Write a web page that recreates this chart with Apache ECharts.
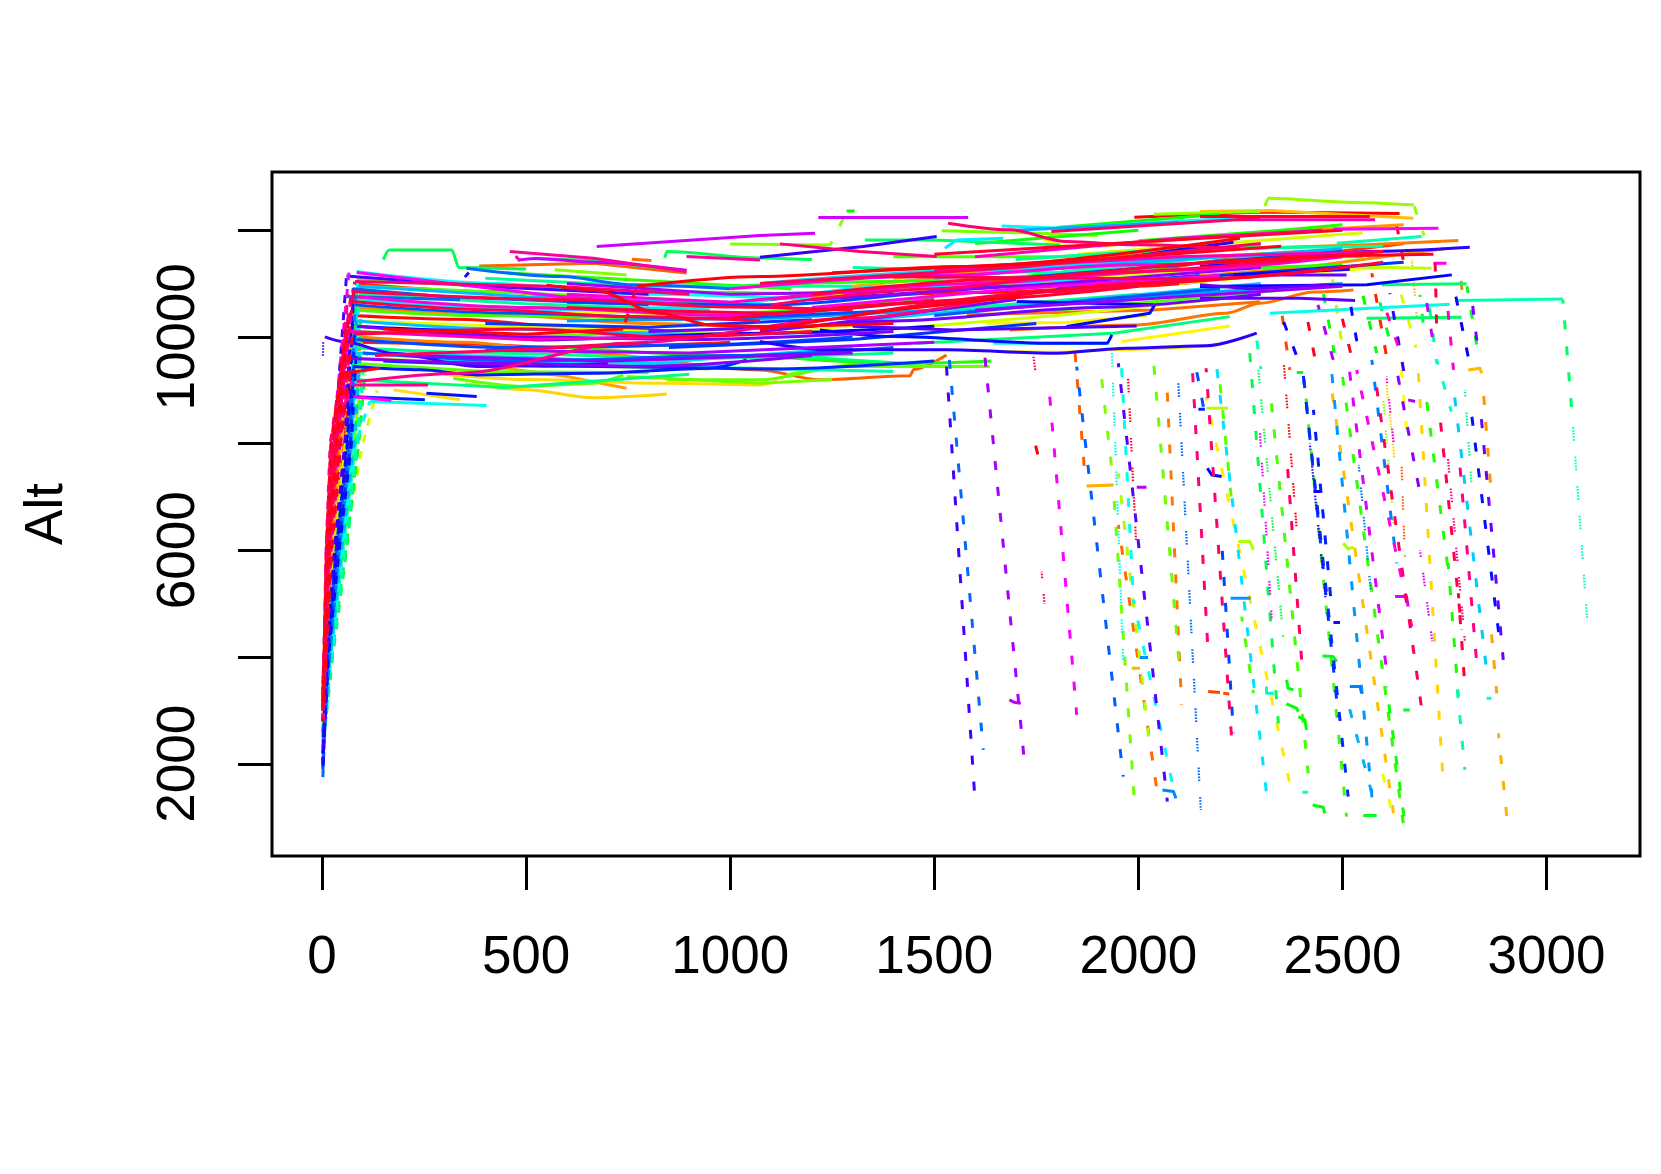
<!DOCTYPE html>
<html>
<head>
<meta charset="utf-8">
<title>Alt</title>
<script src="https://cdn.jsdelivr.net/npm/echarts@6/dist/echarts.min.js"></script>
<style>
  html, body { margin: 0; padding: 0; background: #fff; }
  #main { width: 1661px; height: 1174px; }
</style>
</head>
<body>
<div id="main"></div>
<script>
// axis ticks
const xTicks = [0, 500, 1000, 1500, 2000, 2500, 3000];
const yTicks = [2000, 4000, 6000, 8000, 10000, 12000];
const yLabels = [2000, 6000, 10000];

// solid flight levels, flat x,y,x,y... one array per colour family
const redTracks = [
  [1990,12240,2300,12340,2640,12310],
  [75,10400,330,10330,620,10180,900,10090],
  [1200,10700,1600,10830,2000,10950,2400,11300],
  [75,9900,300,9880,600,9800,1000,9900],
  [80,11000,400,10850,800,10650,1150,10550],
  [1500,10950,1900,11150,2300,11500,2650,11750],
  [2171,3353,2200,3334],
  [2208,3322,2223,3309]
];
const orangeTracks = [
  [790,9600,1073,9380,1220,9195,1440,9270,1450,9390,1530,9660],
  [385,11330,665,11380,893,11195],
  [759,11456,807,11430],
  [1580,10413,2037,10506,2298,10660],
  [1685,10130,1996,10225,2216,10444,2298,10630,2430,10840,2527,10880],
  [2151,11630,2559,11725,2784,11806],
  [90,10000,350,9900,600,9720,800,9600],
  [85,10550,450,10400,800,10250,1100,10150],
  [1150,10700,1600,10950,2000,11150,2400,11450],
  [2000,11050,2400,11300,2750,11650],
  [1900,11700,2300,11950,2650,12100],
  [1400,11100,1800,11300,2100,11500,2400,11600],
  [440,9420,600,9257,746,9038],
  [1300,10950,1700,11250,2000,11560],
  [1873,7207,1939,7226],
  [1984,3790,2004,3790],
  [2808,9381,2837,9412,2841,9319],
  [2151,12350,2322,12368,2674,12224]
];
const yellowTracks = [
  [350,9120,500,9010,665,8860,845,8930],
  [300,9300,500,9200,844,9130,1073,9100,1115,9170],
  [175,9007,338,8820],
  [1645,9725,1808,9713,1930,9757,2163,9830],
  [1628,10256,1824,10270,2020,10400],
  [1959,9913,2224,10206],
  [1767,11818,1824,11693],
  [700,10100,1100,10050,1400,10300],
  [2100,11000,2400,11200,2600,11300],
  [1900,11100,2200,11300],
  [90,10300,450,10200,800,10100],
  [85,10650,500,10500,900,10420],
  [1200,10800,1700,10950,2150,11250],
  [1850,11550,2200,11750,2550,11950],
  [1400,10150,1800,10400,2250,10750],
  [95,9600,500,9480,950,9400],
  [2478,11318,2718,11287],
  [2167,8663,2220,8663],
  [2245,6164,2273,6164,2282,6008],
  [2502,6133,2514,6027,2527,6058]
];
const greenTracks = [
  [2310,12450,2320,12600,2525,12520,2675,12474],
  [2037,12300,2298,12350],
  [1000,11743,1244,11724],
  [570,11256,746,11160],
  [1518,11987,1759,11943,1900,11900],
  [746,9257,1073,9132,1250,9200],
  [1138,9290,1326,9520],
  [844,9195,1073,9195,1277,9444,1636,9444],
  [322,9226,501,9070,665,9132,738,9288],
  [85,9500,400,9350,800,9330],
  [85,10950,400,10850,700,10750],
  [80,10100,500,10000,1000,10150],
  [1400,11500,1800,11500,2300,11700],
  [1800,10500,2100,10700,2450,10950],
  [90,10500,380,10400,900,10350,1300,10600],
  [85,11100,450,10950,800,10850,1200,10800],
  [85,10700,500,10550,1000,10450,1500,10750],
  [450,11200,800,11050,1150,10900],
  [1000,10950,1500,11050,2000,11250,2500,11350],
  [2000,11800,2350,12000,2500,12100],
  [600,9800,1000,9650,1400,9500,1640,9550],
  [1700,11100,2100,11500,2550,11500],
  [1600,11750,2000,12000],
  [1800,12050,2200,12300],
  [1285,12360,1305,12360],
  [2363,3122,2388,3040,2392,2978],
  [2392,2884,2408,2822,2412,2634],
  [2427,1229,2453,1185,2457,1072],
  [2363,3572,2367,3415,2380,3384],
  [2388,9331,2404,9331],
  [2451,4021,2477,4009,2486,3915],
  [2551,1029,2584,1029],
  [2649,3009,2665,3009]
];
const springTracks = [
  [150,11450,165,11630,318,11630,335,11300,500,11270],
  [526,11470,665,11430,893,11240],
  [840,11480,845,11600,1073,11480,1200,11450],
  [1330,11818,1500,11818,1808,11720],
  [2559,10350,2792,10369],
  [2596,10975,2804,10994],
  [1155,9632,1453,9494],
  [1457,9880,1939,10069,2224,10380],
  [70,9200,450,9050,900,9300],
  [70,9800,400,9700,900,9600,1400,9700],
  [1100,10400,1500,10500,2000,10800],
  [90,10800,500,10620,950,10500],
  [400,11100,800,10950,1300,10950],
  [1700,11450,2100,11650,2600,11700],
  [1300,11300,1800,11200,2200,11500],
  [500,9600,1000,9420,1400,9350],
  [2776,10681,3040,10712],
  [2486,11756,2694,11880],
  [2314,3447,2314,3322,2332,3322],
  [2402,1467,2416,1467],
  [2853,3228,2865,3228]
];
const cyanTracks = [
  [2322,10444,2763,10612],
  [117,8788,403,8713],
  [85,11225,403,11006,800,10800,1200,10700],
  [1645,9880,1930,9880],
  [1665,12080,1808,12037,2298,12255],
  [1526,11660,1555,11818,1669,11850],
  [100,10700,500,10500,900,10550,1400,10950,1900,11100],
  [300,9550,800,9500,1300,9800],
  [1073,11000,1600,11250,2200,11500,2400,11550],
  [80,9700,500,9620,1000,9450],
  [1300,10300,1800,10650,2300,11000],
  [85,10300,450,10150,900,10050,1300,10100],
  [90,10950,500,10750,1000,10650],
  [1500,11100,2000,11400,2500,11650],
  [1700,12000,2100,12150],
  [1800,10600,2200,10850,2500,11000],
  [600,10300,1100,10350,1500,10500],
  [2226,5102,2275,5102],
  [2004,3990,2024,3990],
  [2059,1510,2086,1480,2092,1354],
  [2518,3447,2543,3447,2547,3322]
];
const blueTracks = [
  [354,11287,583,11131,763,10975,1000,10900],
  [56,10756,338,10694],
  [75,10900,300,10750,800,10600],
  [100,9700,500,9550,1000,9650,1400,9800],
  [1500,10400,1900,10700,2200,10900],
  [80,10600,450,10450,900,10350,1400,10500],
  [85,9950,450,9800,900,9850,1300,10000],
  [600,10650,1100,10600,1700,10950,2150,11150],
  [1700,11100,2100,11350,2500,11600],
  [400,10250,800,10180,1200,10320],
  [850,9800,1300,9950,1750,10250],
  [1800,10900,2200,11150,2650,11400],
  [150,9550,600,9450,1100,9400,1500,9550],
  [2147,8644,2163,8644],
  [77,9444,240,9382,379,9288,665,9319,950,9413,1040,9569],
  [68,8882,252,8820],
  [256,8945,379,8882],
  [1220,10131,1400,10006,1792,9880,1922,9880,1935,10037],
  [1824,10194,2028,10444,2040,10600],
  [1702,10662,2037,10600],
  [2151,10944,2560,10975,2768,11162],
  [2233,11162,2518,11268],
  [93,10194,305,10131,526,9944,1073,10069,1500,10200],
  [2169,7538,2180,7413,2204,7382],
  [2429,7101,2449,7101],
  [2478,4646,2494,4646],
  [1930,11443,2094,11630,2233,11775],
  [1073,9913,1236,9757,1530,9757,1792,9694,1971,9788,2167,9832,2290,10069],
  [2151,11318,2396,11475,2559,11600,2812,11681],
  [1073,11493,1326,11693,1506,11880]
];
const purpleTracks = [
  [7,10000,52,9913,175,9694,379,9444,700,9500],
  [60,11143,403,10944,800,10800],
  [1300,10200,1547,10131,1996,10206],
  [2151,10725,2396,10725,2531,10681],
  [2151,10975,2273,10900,2469,10975],
  [2314,11162,2510,11162],
  [1073,10100,1400,10300,1900,10550,2300,10800],
  [800,10100,1200,10200,1700,10700],
  [85,10200,500,10000,900,9950,1400,10100],
  [70,9600,450,9500,800,9450,1200,9650],
  [200,9650,700,9550,1300,9700],
  [1200,10700,1800,11000,2300,11300],
  [1600,10500,2100,10750,2500,10950],
  [600,11000,1000,10800,1400,10850],
  [400,9750,900,9700,1500,9900],
  [2661,8819,2678,8788],
  [1996,7182,2020,7182],
  [1684,3197,1698,3147,1712,3134],
  [480,11440,520,11470,665,11400,893,11250],
  [673,11693,1073,11900,1208,11943],
  [1216,12237,1583,12237],
  [2629,5133,2657,5133,2661,4946]
];
const magentaTracks = [
  [85,11206,583,10756,900,10600],
  [77,8882,170,8807],
  [2478,12018,2735,12037],
  [2723,11380,2755,11380],
  [1200,10550,1700,10900,2200,11150],
  [1000,10900,1500,11150,2000,11350,2450,11500],
  [85,10750,500,10550,1000,10400,1500,10700],
  [1100,10700,1600,11000,2100,11250,2500,11500],
  [600,10800,1000,10650,1500,11000],
  [1600,11500,2100,11850,2450,12000],
  [70,10100,500,9950,900,10000],
  [1500,11250,2100,11500,2600,11600],
  [2241,12193,2580,12193],
  [460,11600,665,11475,893,11225],
  [893,11506,1073,11443],
  [77,9100,260,9100],
  [85,9163,338,9319,746,9880,1300,10350,1700,10800]
];
const pinkTracks = [
  [1122,11743,1318,11600,1506,11506],
  [81,11037,583,10944,900,10800],
  [1534,12130,1685,12006,1824,11787,1996,11725,2250,11650],
  [1787,11975,2298,12225],
  [1100,10600,1500,10900,1900,11200,2400,11450],
  [130,9650,450,9750,800,9900],
  [1073,11000,1700,11300,2300,11750],
  [1359,11131,2151,11081],
  [1300,10400,1800,10850,2200,11100,2600,11400],
  [72,10850,600,10700,1000,10560,1300,10500],
  [72,10662,420,10506,746,10381,1073,10300],
  [80,10050,500,10150,850,10000,1200,10100],
  [1200,10800,1700,11100,2200,11400,2600,11600],
  [600,10550,1100,10450,1600,10700,2000,10950],
  [1000,10350,1500,10650,2000,11000,2500,11300],
  [1500,11550,2050,11800,2500,12000],
  [1250,11200,1800,11400,2350,11700],
  [2151,12256,2567,12256],
  [2151,11381,2396,11506,2723,11550],
  [550,10975,665,10881,828,10444,950,10225,1073,10194,1400,10250],
  [52,9319,142,9413],
  [1073,10131,1400,10506,1710,10756],
  [150,10150,500,10050,738,10150],
  [771,10950,1073,11131,1563,11318,2249,11849]
];

// descents as dashes: xTop,yTop,xBottom,yBottom
const redDescents = [
  [2633,12090,2650,11400],
  [2572,11193,2608,9631],
  [2347,10694,2371,9382]
];
const orangeDescents = [
  [1845,9694,1869,7413],
  [1951,6476,2046,1480],
  [2069,9256,2106,3103],
  [2788,11256,2796,10631],
  [2845,9006,2865,7007],
  [2865,4446,2878,3321],
  [2882,2572,2906,760],
  [2469,9256,2625,1073]
];
const yellowDescents = [
  [2686,9319,2747,1635],
  [2166,8881,2371,1635],
  [2641,9694,2657,8257],
  [2592,2010,2620,1135],
  [2640,10900,2680,9800],
  [2475,11100,2500,9800],
  [1951,7445,2028,2322]
];
const greenDescents = [
  [2676,12450,2700,11900],
  [1245,11720,1285,12340],
  [1906,9506,1935,7507],
  [1939,7132,1992,1104],
  [2037,9569,2102,3696],
  [2200,9131,2229,6882],
  [2253,4758,2282,3321],
  [2322,9069,2416,1823],
  [2408,9069,2510,1010],
  [2498,9381,2649,885],
  [2706,8819,2763,5388],
  [2759,5758,2784,3259],
  [2608,3447,2653,885],
  [2543,11006,2584,9694],
  [2450,10950,2480,9700],
  [2590,10700,2620,9800],
  [2805,10950,2830,9800],
  [2690,10787,2702,9944]
];
const springDescents = [
  [2273,9694,2343,2759],
  [3040,10700,3062,8600],
  [2518,12130,2535,11950],
  [2710,10756,2731,9506],
  [2780,3509,2800,1885],
  [2290,9950,2300,9400],
  [2731,9569,2767,8600]
];
const cyanDescents = [
  [1959,9412,1988,5071],
  [1988,5071,2090,1385],
  [2188,9694,2314,1447],
  [2772,9069,2853,3760],
  [2514,3134,2572,1447],
  [2474,9319,2576,1073],
  [2572,9569,2633,5758]
];
const blueDescents = [
  [1537,9569,1620,2260],
  [1849,9444,1963,1760],
  [2136,9631,2167,8382],
  [2204,6195,2233,2572],
  [2404,9319,2490,2884],
  [2404,9287,2514,1385],
  [2429,8632,2474,4883],
  [2812,8819,2886,4258],
  [2772,10975,2808,9631],
  [2350,10400,2390,9600],
  [2520,10600,2540,9700],
  [350,11120,370,11300],
  [2616,10819,2657,9069]
];
const purpleDescents = [
  [1530,9444,1600,1291],
  [1951,9506,2071,1291],
  [2837,8756,2894,3946],
  [2816,10787,2833,9694],
  [2633,9381,2690,7070],
  [1624,9631,1722,1947],
  [2440,10600,2480,9500],
  [2700,10950,2720,10000],
  [2514,9569,2608,3759]
];
const magentaDescents = [
  [1783,8881,1849,2915],
  [2535,9381,2670,4571],
  [2755,10787,2772,9382],
  [2600,10650,2640,9750],
  [465,11600,485,11420],
  [2788,7569,2830,3800]
];
const pinkDescents = [
  [2133,9319,2171,4071],
  [2166,9412,2229,2416],
  [2363,7819,2400,3946],
  [2580,9256,2698,2822],
  [2739,8506,2792,4508],
  [2727,11412,2731,10130],
  [2784,5196,2800,3446],
  [2490,10650,2520,9700],
  [2410,10500,2435,9500],
  [738,10150,771,10950],
  [1747,8000,1757,7700]
];

// descents sampled so finely they read as dots
const redDots = [];
const orangeDots = [[2645,7569,2653,5883],[2670,11443,2682,10381]];
const yellowDots = [[2608,9100,2629,7600]];
const greenDots = [[2600,8800,2625,6500]];
const springDots = [
  [2294,9381,2355,4383],
  [2800,9006,2816,7257],
  [3062,8600,3102,4446]
];
const cyanDots = [[1935,9694,1963,3946],[2540,7600,2570,5200]];
const blueDots = [[2098,9131,2153,1135],[2420,8000,2460,5000]];
const purpleDots = [[3,9900,2,9550],[2690,6000,2720,4300]];
const magentaDots = [[2298,8194,2327,4696],[2608,9256,2629,7757],[2755,8000,2800,4300]];
const pinkDots = [
  [1743,9631,1748,9340],
  [1763,5600,1770,5000],
  [1973,9506,1994,6195],
  [2355,9631,2388,6383]
];

// climb out: alt at first fix, x at 4000, x at 6000, x at 8000, xTop, altTop
const redClimbs = [
  [3000,8,18,34,72,10660],
  [2600,7,14,40,70,10060],
  [3200,10,25,50,85,9650],
  [3400,6,20,38,66,9450],
  [2800,12,30,55,88,10000]
];
const orangeClimbs = [
  [3600,9,22,44,76,9300],
  [2500,11,34,60,92,9800],
  [3300,14,38,66,95,10100],
  [2900,9,26,48,80,10800]
];
const yellowClimbs = [
  [3700,10,28,58,90,9450],
  [2900,16,44,70,96,9900],
  [3100,20,52,100,135,9000],
  [3000,12,30,58,90,10300]
];
const greenClimbs = [
  [2400,18,48,78,100,9500],
  [2700,22,54,84,98,9300],
  [3000,16,42,72,90,10950],
  [2600,15,40,70,88,10100],
  [2800,20,50,80,96,10500],
  [3300,24,58,90,110,9700],
  [2500,13,36,64,86,11000]
];
const springClimbs = [
  [2300,26,60,88,100,9200],
  [2600,20,50,82,94,9800],
  [2900,17,44,74,92,10300],
  [2500,24,56,86,102,9500],
  [2700,19,46,76,90,10700]
];
const cyanClimbs = [
  [2100,22,52,82,117,8788],
  [2400,18,46,74,88,11225],
  [2200,17,44,72,86,10700],
  [2700,20,48,78,94,9700],
  [2500,16,40,68,84,10300],
  [2300,19,42,70,82,10900]
];
const blueClimbs = [
  [1750,14,36,66,78,9444],
  [1900,12,34,64,68,8882],
  [2000,16,40,68,76,10756],
  [1800,13,38,70,80,10194],
  [2100,15,42,72,84,9700],
  [1950,11,32,60,75,10900],
  [2200,14,36,62,78,11000],
  [2050,12,30,56,72,10500]
];
const purpleClimbs = [
  [3000,6,14,30,60,11143],
  [2800,7,18,36,64,9900],
  [2900,8,20,38,60,10500],
  [3100,5,12,28,58,9200],
  [2700,9,22,44,66,10200]
];
const magentaClimbs = [
  [2800,6,12,26,66,11206],
  [3000,7,16,32,70,10400],
  [3200,8,18,36,72,9163],
  [2900,5,10,22,62,8882],
  [2700,9,20,40,68,9700],
  [3100,6,15,30,64,10800]
];
const pinkClimbs = [
  [3300,7,14,24,72,10850],
  [3000,5,10,20,72,10662],
  [3400,6,16,32,68,10600],
  [2900,8,18,36,80,11037],
  [3200,4,12,26,60,10250],
  [3100,9,22,42,70,9319],
  [3500,7,20,38,64,9650],
  [2800,6,13,28,58,10150],
  [3000,10,24,46,74,10000],
  [3300,5,11,22,55,9800],
  [3100,8,17,34,66,10400]
];

const families = [
  {hue: [0, 18], tracks: redTracks, descents: redDescents, dots: redDots, climbs: redClimbs},
  {hue: [22, 45], tracks: orangeTracks, descents: orangeDescents, dots: orangeDots, climbs: orangeClimbs},
  {hue: [50, 80], tracks: yellowTracks, descents: yellowDescents, dots: yellowDots, climbs: yellowClimbs},
  {hue: [85, 130], tracks: greenTracks, descents: greenDescents, dots: greenDots, climbs: greenClimbs},
  {hue: [138, 168], tracks: springTracks, descents: springDescents, dots: springDots, climbs: springClimbs},
  {hue: [175, 210], tracks: cyanTracks, descents: cyanDescents, dots: cyanDots, climbs: cyanClimbs},
  {hue: [215, 252], tracks: blueTracks, descents: blueDescents, dots: blueDots, climbs: blueClimbs},
  {hue: [256, 292], tracks: purpleTracks, descents: purpleDescents, dots: purpleDots, climbs: purpleClimbs},
  {hue: [298, 328], tracks: magentaTracks, descents: magentaDescents, dots: magentaDots, climbs: magentaClimbs},
  {hue: [332, 358], tracks: pinkTracks, descents: pinkDescents, dots: pinkDots, climbs: pinkClimbs}
];

function colorOf(range, i, n) {
  const h = n > 1 ? range[0] + (range[1] - range[0]) * i / (n - 1) : range[0];
  return 'hsl(' + h + ',100%,50%)';
}

function pairs(flat) {
  const out = [];
  for (let i = 0; i < flat.length; i += 2) out.push([flat[i], flat[i + 1]]);
  return out;
}

function lineSeries(data, color, width, dash, offset, smooth) {
  return {
    type: 'line',
    data: data,
    showSymbol: false,
    silent: true,
    animation: false,
    clip: true,
    smooth: smooth || false,
    smoothMonotone: 'x',
    lineStyle: {
      color: color,
      width: width,
      type: dash,
      dashOffset: offset,
      cap: 'butt',
      join: 'round'
    }
  };
}

const series = [];
families.forEach(function (f) {
  f.climbs.forEach(function (c, i) {
    const pts = [[2, c[0]], [c[1], 4000], [c[2], 6000], [c[3], 8000], [c[4], c[5]]];
    series.push(lineSeries(pts, colorOf(f.hue, i, f.climbs.length), 3, [8, 9], i * 3));
  });
  f.descents.forEach(function (d, i) {
    series.push(lineSeries(pairs(d), colorOf(f.hue, i, f.descents.length), 3, [9, 17], i * 5));
  });
  f.dots.forEach(function (d, i) {
    series.push(lineSeries(pairs(d), colorOf(f.hue, i, f.dots.length), 2.2,
      [1.6, 1.4, 1.6, 1.4, 1.6, 1.4, 1.6, 1.4, 1.6, 16], i * 7));
  });
  f.tracks.forEach(function (t, i) {
    series.push(lineSeries(pairs(t), colorOf(f.hue, i, f.tracks.length), 3, 'solid', 0, t.length > 6 ? 0.3 : false));
  });
});

const chart = echarts.init(document.getElementById('main'), null, {renderer: 'canvas'});
const font = '"Liberation Sans", Arial, sans-serif';
chart.setOption({
  backgroundColor: '#ffffff',
  animation: false,
  grid: {
    left: 272, right: 21, top: 172, bottom: 318,
    show: true, borderColor: '#000', borderWidth: 3, backgroundColor: 'transparent'
  },
  xAxis: {
    type: 'value',
    min: -122.5,
    max: 3229,
    splitLine: {show: false},
    axisLine: {show: false, onZero: false},
    axisTick: {show: true, length: 34, customValues: xTicks, lineStyle: {color: '#000', width: 3}},
    axisLabel: {
      customValues: xTicks,
      formatter: function (v) { return String(v); },
      color: '#000', fontSize: 53, fontFamily: font, margin: 76,
      hideOverlap: false, showMinLabel: true, showMaxLabel: true
    }
  },
  yAxis: {
    type: 'value',
    min: 272,
    max: 13090,
    name: 'Alt',
    nameLocation: 'middle',
    nameRotate: 90,
    nameGap: 198,
    nameTextStyle: {color: '#000', fontSize: 53, fontFamily: font},
    splitLine: {show: false},
    axisLine: {show: false, onZero: false},
    axisTick: {show: true, length: 34, customValues: yTicks, lineStyle: {color: '#000', width: 3}},
    axisLabel: {
      customValues: yLabels,
      formatter: function (v) { return String(v); },
      rotate: 90,
      color: '#000', fontSize: 53, fontFamily: font, margin: 66,
      hideOverlap: false
    }
  },
  series: series
});
</script>
</body>
</html>
